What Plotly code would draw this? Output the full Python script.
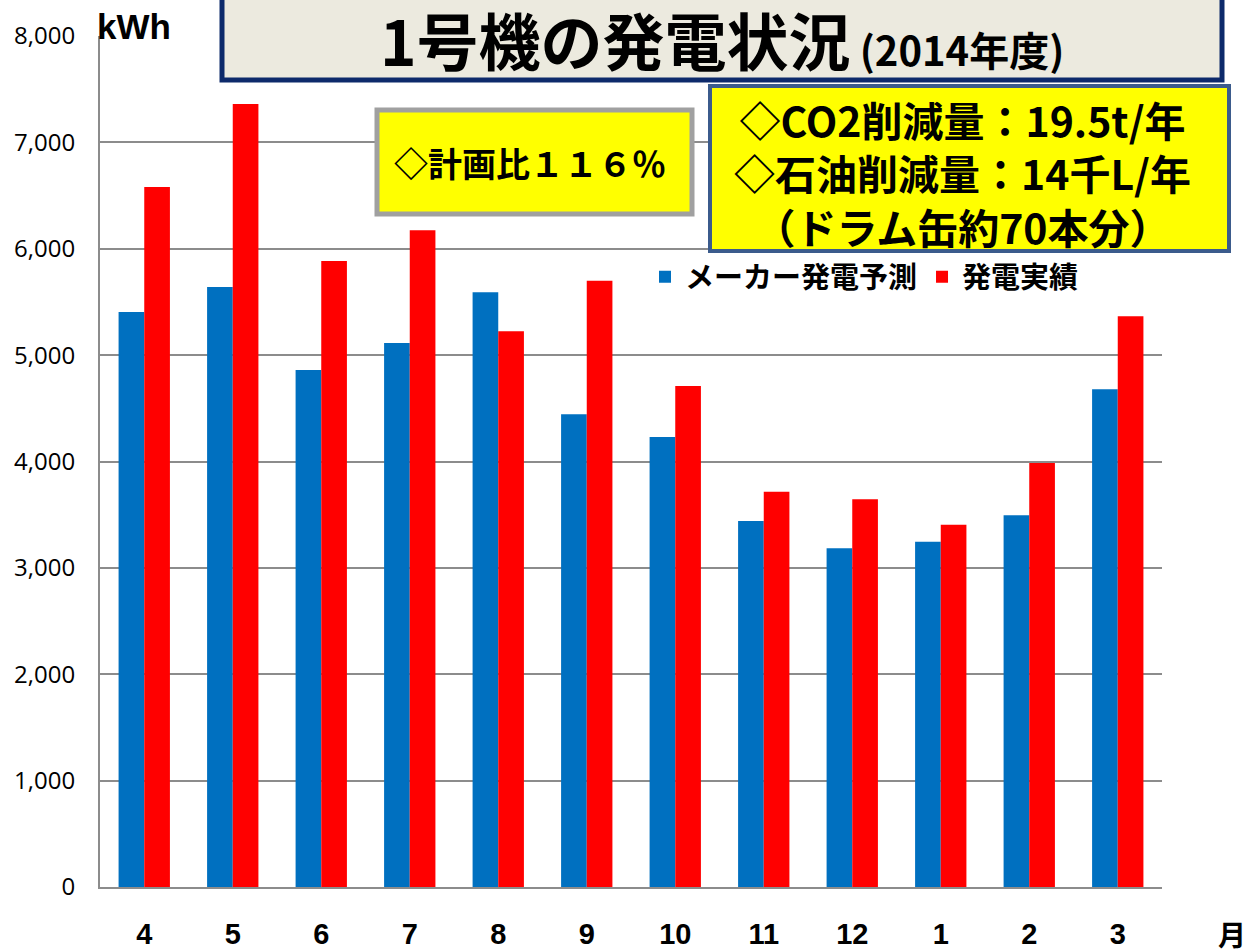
import plotly.graph_objects as go

months = ["4", "5", "6", "7", "8", "9", "10", "11", "12", "1", "2", "3"]
forecast = [5405, 5640, 4860, 5115, 5590, 4445, 4230, 3440, 3185, 3245, 3495, 4680]
actual = [6580, 7360, 5885, 6175, 5225, 5700, 4710, 3715, 3645, 3405, 3985, 5365]
series_names = ["メーカー発電予測", "発電実績"]
y_ticks = [0, 1000, 2000, 3000, 4000, 5000, 6000, 7000, 8000]

L, R, T, B = 100, 1162, 36, 887
W, H = 1250, 951


def px(x):
    return (x - L) / (R - L)


def py(y):
    return (B - y) / (B - T)


CJK = "Noto Sans CJK JP"

fig = go.Figure()
fig.add_trace(go.Bar(x=months, y=forecast, name=series_names[0],
                     marker=dict(color="#0070C0", line=dict(width=0))))
fig.add_trace(go.Bar(x=months, y=actual, name=series_names[1],
                     marker=dict(color="#FF0000", line=dict(width=0))))

shapes = [
    # title box
    dict(type="rect", xref="paper", yref="paper", x0=px(222), x1=px(1222), y0=py(80), y1=py(-10),
         fillcolor="#ECEADF", line=dict(color="#0D2A6B", width=5), layer="above"),
    # plan ratio box
    dict(type="rect", xref="paper", yref="paper", x0=px(377), x1=px(692), y0=py(214), y1=py(110),
         fillcolor="#FFFF00", line=dict(color="#A0A0A0", width=5), layer="above"),
    # reduction box
    dict(type="rect", xref="paper", yref="paper", x0=px(710), x1=px(1229), y0=py(251), y1=py(86),
         fillcolor="#FFFF00", line=dict(color="#3B5B8C", width=4), layer="above"),
]

annotations = [
    dict(text="<b><span style='font-size:62px'>1号機の発電状況</span><span style='font-size:40px'> (2014年度)</span></b>",
         xref="paper", yref="paper", x=px(722), y=py(39), xanchor="center", yanchor="middle",
         showarrow=False, font=dict(family=CJK, size=62, color="#000000")),
    dict(text="<b>◇計画比１１６％</b>", xref="paper", yref="paper", x=px(530), y=py(162),
         xanchor="center", yanchor="middle", showarrow=False,
         font=dict(family=CJK, size=34, color="#000000")),
    dict(text="<b>◇CO2削減量：19.5t/年<br>◇石油削減量：14千L/年<br>（ドラム缶約70本分）</b>",
         xref="paper", yref="paper", x=px(962), y=py(172), xanchor="center", yanchor="middle",
         align="center", showarrow=False,
         font=dict(family=CJK, size=41, color="#000000")),
    dict(text="<b>kWh</b>", xref="paper", yref="paper", x=px(134), y=py(26),
         xanchor="center", yanchor="middle", showarrow=False,
         font=dict(family="Liberation Sans", size=35, color="#000000")),
    dict(text="<b>月</b>", xref="paper", yref="paper", x=px(1232), y=py(934),
         xanchor="center", yanchor="middle", showarrow=False,
         font=dict(family=CJK, size=28, color="#000000")),
]

fig.update_layout(
    width=W, height=H,
    margin=dict(l=L, r=W - R, t=T, b=H - B, pad=0, autoexpand=False),
    paper_bgcolor="#FFFFFF", plot_bgcolor="#FFFFFF",
    barmode="group", bargap=0.42, bargroupgap=0,
    showlegend=True,
    legend=dict(orientation="h", x=px(645), y=py(277), xanchor="left", yanchor="middle",
                bgcolor="rgba(0,0,0,0)", font=dict(family=CJK, size=29, color="#000000", weight="bold"),
                itemsizing="constant", traceorder="normal"),
    shapes=shapes,
    annotations=annotations,
    xaxis=dict(type="category", showgrid=False, showline=True, linecolor="#8C8C8C", linewidth=2,
               ticks="outside", ticklen=20, tickcolor="rgba(0,0,0,0)", automargin=False,
               tickfont=dict(family="Liberation Sans", size=29, color="#000000", weight="bold"),
               zeroline=False),
    yaxis=dict(range=[0, 8000], tickvals=y_ticks, tickformat=",", showgrid=True, automargin=False,
               gridcolor="#8C8C8C", gridwidth=2, showline=True, linecolor="#8C8C8C", linewidth=2,
               ticks="outside", ticklen=18, tickcolor="rgba(0,0,0,0)",
               tickfont=dict(family="Open Sans", size=24, color="#000000"),
               zeroline=False),
)

fig.write_html("out.html", config={"displayModeBar": False},
               post_script="document.body.style.margin='0';document.body.style.overflow='hidden';")
